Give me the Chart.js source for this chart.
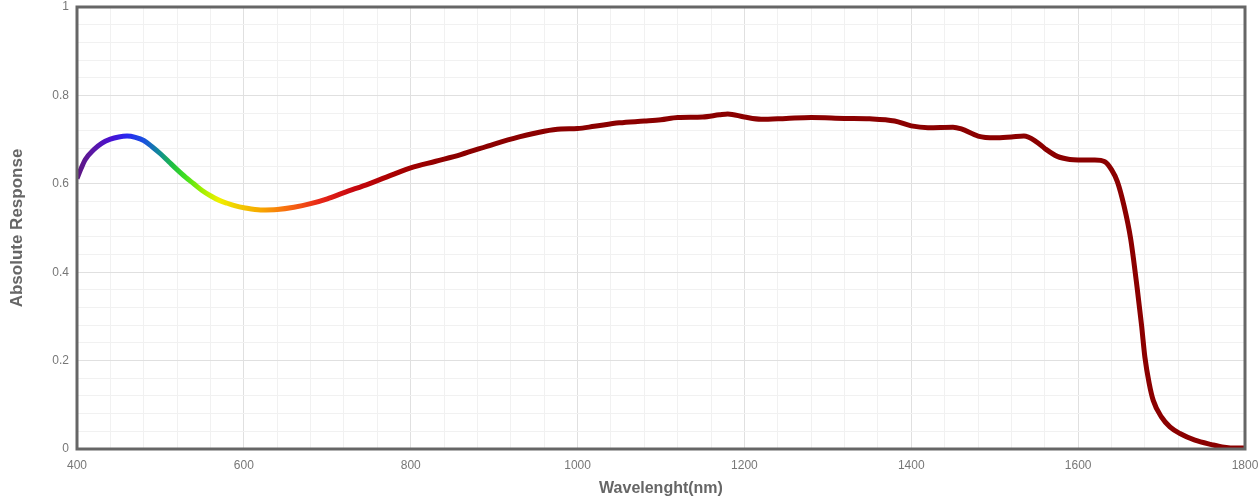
<!DOCTYPE html>
<html>
<head>
<meta charset="utf-8">
<script src="https://cdn.jsdelivr.net/npm/chart.js@4"></script>
<style>
  html, body { margin: 0; padding: 0; background: #fff; }
  #wrap { width: 1259px; height: 498px; }
</style>
</head>
<body>
<div id="wrap"><canvas id="respChart"></canvas></div>
<script>
// wavelength (nm) and absolute response
const wavelengths = [400, 405, 410, 420, 430, 440, 450, 460, 470, 480, 490, 500, 510, 520, 530, 540, 550, 560, 570, 580, 590, 600,
  620, 640, 660, 680, 700, 720, 750, 780, 800, 830, 860, 900, 930, 960, 980, 1000, 1020, 1050, 1080, 1100, 1120, 1150, 1170, 1180,
  1200, 1220, 1250, 1280, 1320, 1350, 1380, 1400, 1420, 1450, 1460, 1480, 1500, 1520, 1535, 1550, 1560, 1575, 1590, 1600, 1620,
  1632, 1640, 1647, 1655, 1663, 1671, 1676, 1680, 1685, 1690, 1700, 1710, 1722, 1740, 1760, 1775, 1790, 1800];
const response = [0.612, 0.635, 0.655, 0.677, 0.692, 0.701, 0.706, 0.708, 0.705, 0.698, 0.684, 0.668, 0.650, 0.632, 0.615, 0.600, 0.585, 0.573, 0.563, 0.556, 0.550, 0.546,
  0.541, 0.542, 0.547, 0.555, 0.566, 0.580, 0.600, 0.622, 0.636, 0.651, 0.666, 0.690, 0.706, 0.719, 0.724, 0.725, 0.730, 0.738, 0.742, 0.745, 0.750, 0.751, 0.756, 0.758,
  0.751, 0.746, 0.748, 0.750, 0.748, 0.747, 0.742, 0.731, 0.727, 0.728, 0.724, 0.708, 0.704, 0.706, 0.708, 0.695, 0.680, 0.662, 0.655, 0.654, 0.654,
  0.650, 0.632, 0.605, 0.550, 0.475, 0.360, 0.280, 0.208, 0.150, 0.110, 0.072, 0.050, 0.035, 0.020, 0.010, 0.004, 0.002, 0.002];

// spectrum colours along the line
const stopWaves = [400, 420, 440, 460, 480, 500, 515, 530, 550, 570, 590, 620, 650, 690, 730, 780, 850];
const stopColors = ["#5e1780", "#5a18a8", "#4a10d0", "#2828f0", "#1a50e0", "#109090", "#20c040", "#40e020", "#a0f000", "#f0f000",
  "#f0d000", "#f8a800", "#f87010", "#e82818", "#c80810", "#a80000", "#8b0000"];

const points = wavelengths.map((w, i) => ({ x: w, y: response[i] }));

const frame = {
  id: "frame",
  afterDraw(chart) {
    const { ctx, chartArea: a } = chart;
    ctx.save();
    ctx.strokeStyle = "#666";
    ctx.lineWidth = 3;
    ctx.strokeRect(a.left, a.top, a.right - a.left, a.bottom - a.top);
    ctx.restore();
  }
};

const isMajor = (v, step) => Math.abs(v / step - Math.round(v / step)) < 1e-6;

new Chart(document.getElementById("respChart"), {
  type: "line",
  data: {
    datasets: [{
      data: points,
      borderWidth: 5,
      pointRadius: 0,
      cubicInterpolationMode: "monotone",
      borderColor: c => {
        const chart = c.chart;
        if (!chart.chartArea) return "#8b0000";
        const xs = chart.scales.x;
        const x0 = xs.getPixelForValue(400), x1 = xs.getPixelForValue(1800);
        const g = chart.ctx.createLinearGradient(x0, 0, x1, 0);
        stopWaves.forEach((w, i) => g.addColorStop((w - 400) / 1400, stopColors[i]));
        g.addColorStop(1, "#8b0000");
        return g;
      }
    }]
  },
  options: {
    responsive: true,
    maintainAspectRatio: false,
    animation: false,
    layout: { padding: { top: 7, right: 14, bottom: 0, left: 0 } },
    plugins: { legend: { display: false }, tooltip: { enabled: false } },
    scales: {
      x: {
        type: "linear",
        min: 400,
        max: 1800,
        afterFit: s => { s.height = 49; s.paddingLeft = 0; s.paddingRight = 0; },
        ticks: {
          stepSize: 40,
          autoSkip: false,
          maxRotation: 0,
          color: "#777",
          font: { family: "Liberation Sans", size: 12 },
          padding: 9,
          callback: v => isMajor(v, 200) ? v : ""
        },
        grid: {
          color: c => isMajor(c.tick.value, 200) ? "#e0e0e0" : "#f1f1f1",
          drawTicks: false
        },
        border: { display: false },
        title: {
          display: true,
          text: "Wavelenght(nm)",
          color: "#666",
          font: { family: "Liberation Sans", size: 16, weight: "bold" },
          padding: { top: 6, bottom: 0 }
        }
      },
      y: {
        min: 0,
        max: 1,
        afterFit: s => { s.width = 77; s.paddingTop = 0; s.paddingBottom = 0; },
        ticks: {
          stepSize: 0.04,
          autoSkip: false,
          color: "#777",
          font: { family: "Liberation Sans", size: 12 },
          padding: 8,
          callback: v => isMajor(v, 0.2) ? String(Math.round(v * 10) / 10) : ""
        },
        grid: {
          color: c => isMajor(c.tick.value, 0.2) ? "#e0e0e0" : "#f1f1f1",
          drawTicks: false
        },
        border: { display: false },
        title: {
          display: true,
          text: "Absolute Response",
          color: "#666",
          font: { family: "Liberation Sans", size: 17, weight: "bold" },
          padding: { top: 7, bottom: 24 }
        }
      }
    }
  },
  plugins: [frame]
});
</script>
</body>
</html>
